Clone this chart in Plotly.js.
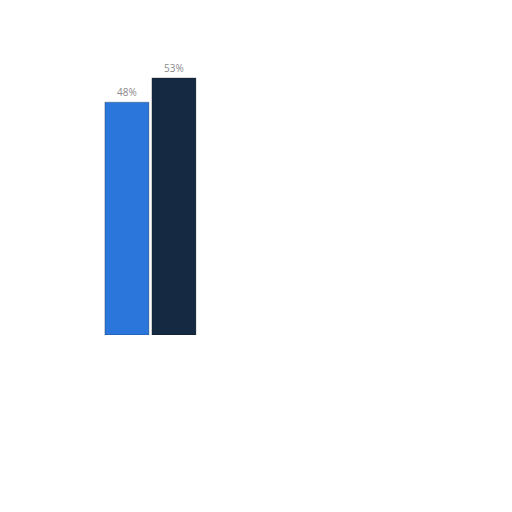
<!DOCTYPE html>
<html>
<head>
<meta charset="utf-8">
<script src="https://cdn.plot.ly/plotly-3.0.1.min.js"></script>
<style>
  html, body { margin: 0; padding: 0; background: #fff; }
  #chart { width: 512px; height: 512px; }
</style>
</head>
<body>
<div id="chart"></div>
<script>
// values
const categories = [''];
const seriesNames = ['A', 'B'];
const seriesValues = [[48], [53]];
const seriesColors = ['#2b76da', '#152a42'];

const traces = seriesNames.map((name, i) => ({
  type: 'bar',
  name: name,
  x: categories,
  y: seriesValues[i],
  text: seriesValues[i].map(v => v + '%'),
  textposition: 'outside',
  cliponaxis: false,
  textfont: { family: 'Open Sans, sans-serif', size: 10, color: '#8a8a8a' },
  marker: {
    color: seriesColors[i],
    line: { color: 'rgba(0,0,0,0.25)', width: 1 }
  },
  hoverinfo: 'skip'
}));

Plotly.newPlot('chart', traces, {
  width: 512,
  height: 512,
  margin: { l: 0, r: 0, t: 44, b: 177 },
  paper_bgcolor: '#fff',
  plot_bgcolor: '#fff',
  showlegend: false,
  barmode: 'group',
  bargap: 0.5,
  bargroupgap: 0.064,
  xaxis: {
    type: 'category',
    range: [-0.8, 1.923],
    showgrid: false, zeroline: false, showticklabels: false, showline: false
  },
  yaxis: {
    range: [0, 60],
    showgrid: false, zeroline: false, showticklabels: false, showline: false
  }
}, { staticPlot: true, displayModeBar: false });
</script>
</body>
</html>
